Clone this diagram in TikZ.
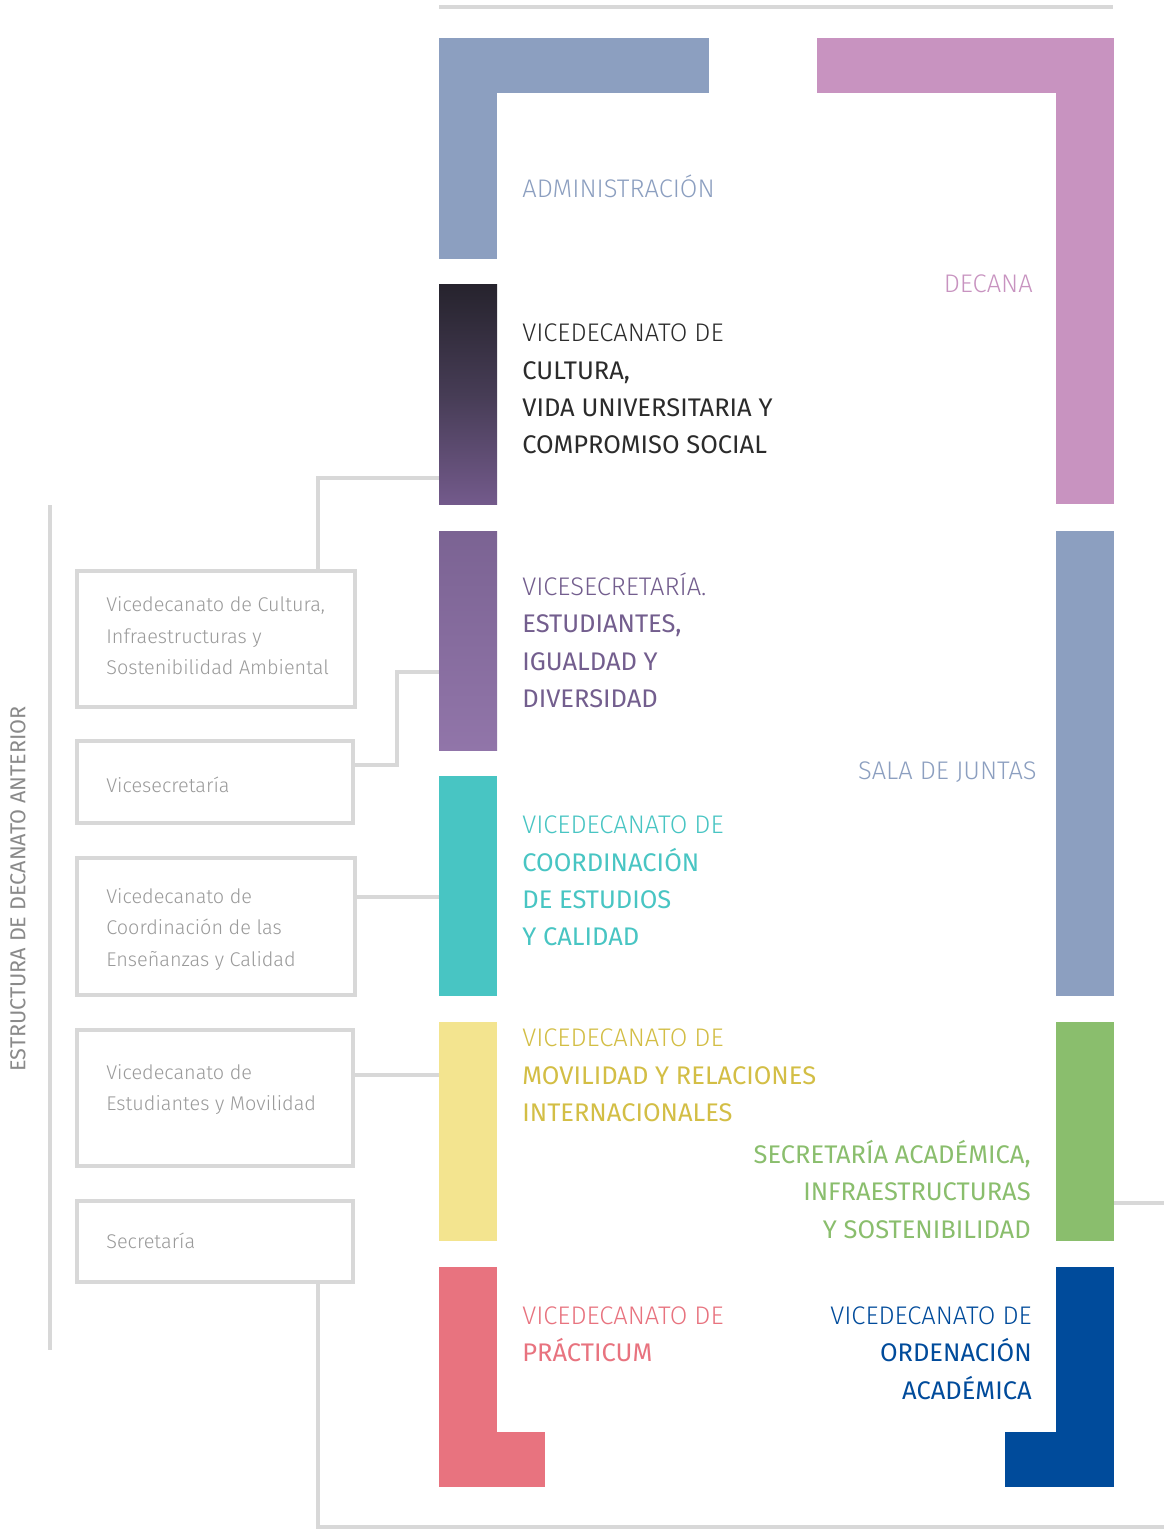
\documentclass[tikz,border=0pt]{standalone}
\usepackage{fontspec}
\setmainfont{Fira Sans}
\newfontfamily\lightf{Fira Sans Light}
\definecolor{admblue}{HTML}{8C9FC0}
\definecolor{pinkc}{HTML}{C893C0}
\definecolor{darktop}{HTML}{26232D}
\definecolor{darkmid}{HTML}{463C55}
\definecolor{darkbot}{HTML}{735A8B}
\definecolor{purtop}{HTML}{7B6393}
\definecolor{purbot}{HTML}{9175A9}
\definecolor{purtext}{HTML}{735E8E}
\definecolor{tealc}{HTML}{48C5C3}
\definecolor{yellowbar}{HTML}{F3E48F}
\definecolor{yellowtext}{HTML}{D3BE45}
\definecolor{redc}{HTML}{E8737F}
\definecolor{greenc}{HTML}{8ABE6D}
\definecolor{navy}{HTML}{004B9B}
\definecolor{lineg}{HTML}{D8D8D8}
\definecolor{boxtxt}{HTML}{9A9A9A}
\definecolor{leftlbl}{HTML}{8A8A8A}
\definecolor{darktxt}{HTML}{2B2B2B}
\begin{document}
\begin{tikzpicture}[x=0.02cm,y=-0.02cm,
  bar/.style={inner sep=0pt,outer sep=0pt,minimum width={58*0.02cm},anchor=north west,draw=none},
  conn/.style={draw=lineg,line width={4*0.02cm}},
  oldbox/.style={draw=lineg,line width={4*0.02cm},inner sep=0pt,fill=white},
  boxtext/.style={anchor=west,align=left,inner sep=0pt,text=boxtxt,font=\lightf\fontsize{11.3}{17.9}\selectfont},
  maintext/.style={anchor=west,align=left,inner sep=0pt,font=\fontsize{14.5}{21.3}\selectfont},
  righttext/.style={anchor=east,align=right,inner sep=0pt,font=\fontsize{14.5}{21.3}\selectfont},
  lighttext/.style={font=\lightf\fontsize{14.5}{21.3}\selectfont}
]
\useasboundingbox[fill=white] (0,0) rectangle (1164,1529);

% top line
\coordinate (tl) at (439,7);
\coordinate (tr) at (1113,7);
\draw[conn] (tl) -- (tr);

% right column bars
\fill[admblue] (439,38) rectangle (709,93);
\node[bar,fill=admblue,minimum height={221*0.02cm}] (adm) at (439,38) {};
\fill[pinkc] (817,38) rectangle (1113,93);
\node[bar,fill=pinkc,minimum height={466*0.02cm}] (dec) at (1056,38) {};
\node[bar,top color=darktop,bottom color=darkbot,middle color=darkmid,minimum height={220*0.02cm}] (cult) at (439,284) {};
\node[bar,top color=purtop,bottom color=purbot,minimum height={219*0.02cm}] (vs) at (439,531) {};
\node[bar,fill=tealc,minimum height={220*0.02cm}] (coord) at (439,776) {};
\node[bar,fill=yellowbar,minimum height={219*0.02cm}] (mov) at (439,1022) {};
\node[bar,fill=redc,minimum height={220*0.02cm}] (prac) at (439,1267) {};
\fill[redc] (439,1432) rectangle (545,1487);
\node[bar,fill=admblue,minimum height={465*0.02cm}] (sala) at (1056,531) {};
\node[bar,fill=greenc,minimum height={219*0.02cm}] (sec) at (1056,1022) {};
\node[bar,fill=navy,minimum height={220*0.02cm}] (ord) at (1056,1267) {};
\fill[navy] (1005,1432) rectangle (1113,1487);

% texts right
\node[maintext,lighttext,text=admblue] (admT) at (522,186) {ADMINISTRACIÓN};
\node[righttext,lighttext,text=pinkc] (decT) at (1033,284) {DECANA};
\node[maintext,text=darktxt] (cultT) at (522,389) {{\lightf VICEDECANATO DE}\\CULTURA,\\VIDA UNIVERSITARIA Y\\COMPROMISO SOCIAL};
\node[maintext,text=purtext] (vsT) at (522,640.5) {{\lightf VICESECRETARÍA.}\\ESTUDIANTES,\\IGUALDAD Y\\DIVERSIDAD};
\node[righttext,lighttext,text=admblue] (salaT) at (1037,772) {SALA DE JUNTAS};
\node[maintext,text=tealc] (coordT) at (522,881) {{\lightf VICEDECANATO DE}\\COORDINACIÓN\\DE ESTUDIOS\\Y CALIDAD};
\node[maintext,text=yellowtext] (movT) at (522,1075.5) {{\lightf VICEDECANATO DE}\\MOVILIDAD Y RELACIONES\\INTERNACIONALES};
\node[righttext,text=greenc] (secT) at (1031,1189.5) {SECRETARÍA ACADÉMICA,\\INFRAESTRUCTURAS\\Y SOSTENIBILIDAD};
\node[maintext,text=redc] (pracT) at (522,1334.5) {{\lightf VICEDECANATO DE}\\PRÁCTICUM};
\node[righttext,text=navy] (ordT) at (1032,1353) {{\lightf VICEDECANATO DE}\\ORDENACIÓN\\ACADÉMICA};

% left column
\coordinate (vt) at (50,505);
\coordinate (vb) at (50,1350);
\draw[conn] (vt) -- (vb);
\node[rotate=90,text=leftlbl,inner sep=0pt,font=\fontsize{12.3}{14}\selectfont] (lbl) at (18,889) {ESTRUCTURA DE DECANATO ANTERIOR};

\node[oldbox,minimum width={278*0.02cm},minimum height={136*0.02cm}] (box1) at (216,639) {};
\node[oldbox,minimum width={276*0.02cm},minimum height={82*0.02cm}] (box2) at (215,782) {};
\node[oldbox,minimum width={278*0.02cm},minimum height={137*0.02cm}] (box3) at (216,926.5) {};
\node[oldbox,minimum width={276*0.02cm},minimum height={136*0.02cm}] (box4) at (215,1098) {};
\node[oldbox,minimum width={276*0.02cm},minimum height={81*0.02cm}] (box5) at (215,1241.5) {};

\node[boxtext] (b1T) at (106,636) {Vicedecanato de Cultura,\\Infraestructuras y\\Sostenibilidad Ambiental};
\node[boxtext] (b2T) at (106,785) {Vicesecretaría};
\node[boxtext] (b3T) at (106,929.5) {Vicedecanato de\\Coordinación de las\\Enseñanzas y Calidad};
\node[boxtext] (b4T) at (106,1089.5) {Vicedecanato de\\Estudiantes y Movilidad};
\node[boxtext] (b5T) at (106,1241) {Secretaría};

% connectors
\coordinate (j1) at (318,478);
\draw[conn] (box1.north -| j1) -- (j1) -- (j1 -| cult.west);
\coordinate (j2) at (397,765);
\coordinate (j3) at (397,672);
\draw[conn] (box2.east |- j2) -- (j2) -- (j3) -- (j3 -| vs.west);
\coordinate (j4) at (0,897);
\draw[conn] (box3.east |- j4) -- (coord.west |- j4);
\coordinate (j5) at (0,1075);
\draw[conn] (box4.east |- j5) -- (mov.west |- j5);
\coordinate (j6) at (318,1527);
\coordinate (j7) at (1164,1527);
\draw[conn] (box5.south -| j6) -- (j6) -- (j7);
\coordinate (j8) at (1164,1203);
\draw[conn] (sec.east |- j8) -- (j8);
\end{tikzpicture}
\end{document}
